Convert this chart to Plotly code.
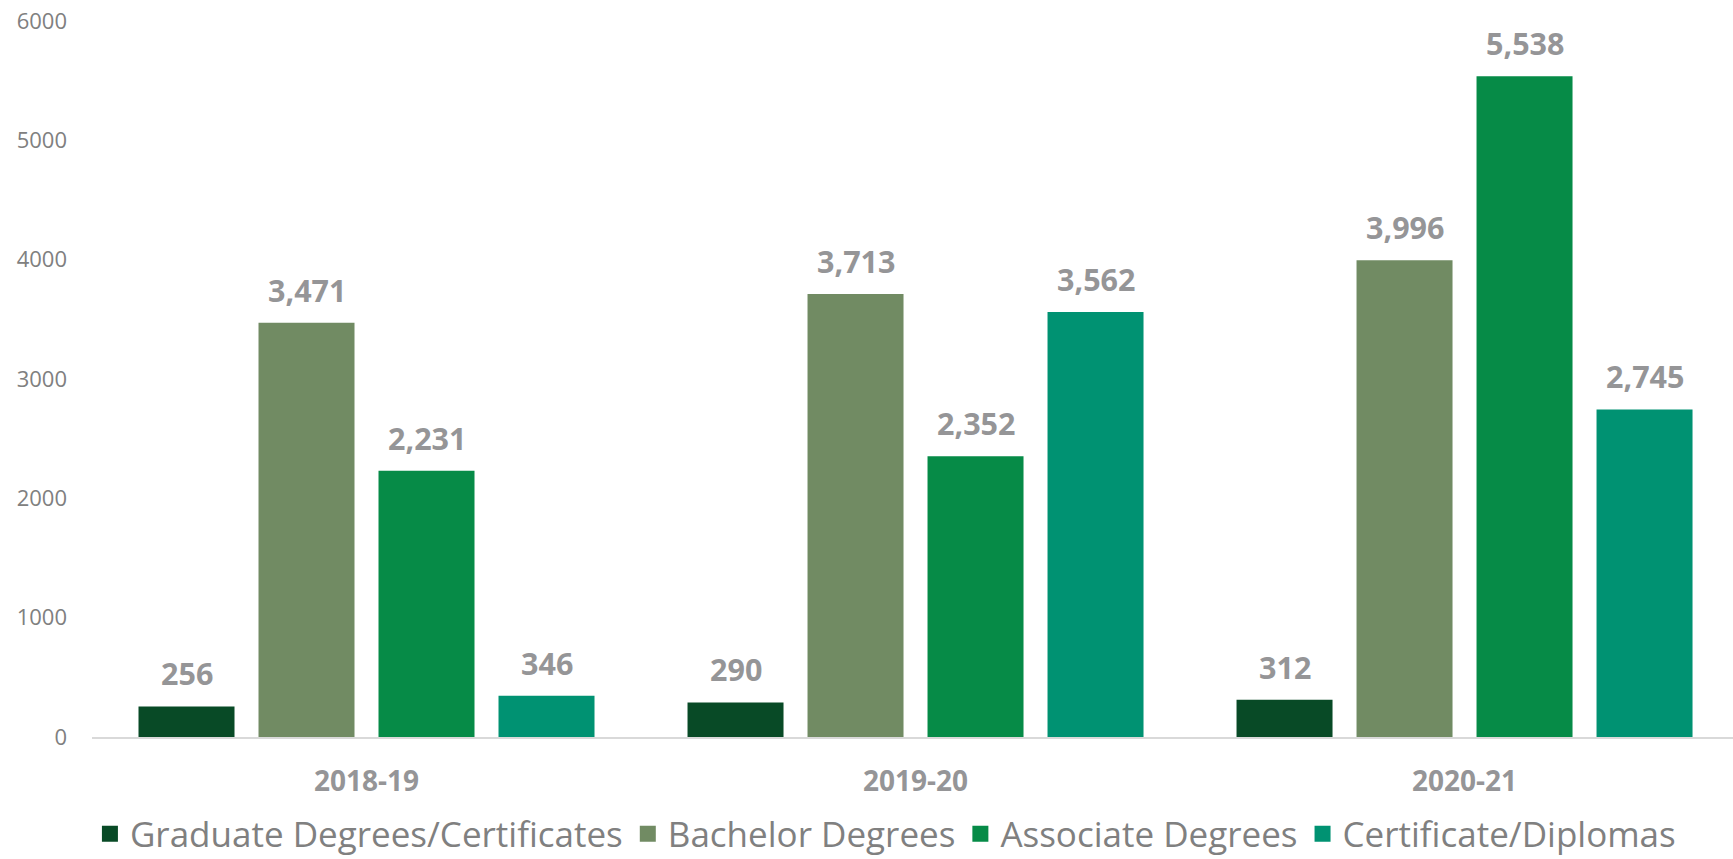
import plotly.graph_objects as go

years = ["2018-19", "2019-20", "2020-21"]
series_names = ["Graduate Degrees/Certificates", "Bachelor Degrees", "Associate Degrees", "Certificate/Diplomas"]
graduate = [256, 290, 312]
bachelor = [3471, 3713, 3996]
associate = [2231, 2352, 5538]
certificate = [346, 3562, 2745]
colors = ["#084A26", "#718B63", "#068B47", "#009272"]
y_ticks = [0, 1000, 2000, 3000, 4000, 5000, 6000]

series_values = [graduate, bachelor, associate, certificate]

W, H = 1733, 859
ML, MR, MT, MB = 92, 0, 21, 122
x_range = [-0.5, 2.489]
bargap = 0.1257
bargroupgap = 0.2

fig = go.Figure()
for name, vals, col in zip(series_names, series_values, colors):
    fig.add_trace(go.Bar(x=years, y=vals, name=name, marker=dict(color=col, line=dict(width=0)),
                         showlegend=False, hoverinfo="x+y"))
# legend entries with larger square symbols
for name, col in zip(series_names, colors):
    fig.add_trace(go.Scatter(x=[None], y=[None], mode="markers", name=name,
                             marker=dict(symbol="square", size=16, color=col)))

# data labels
plot_w = W - ML - MR
plot_h = H - MT - MB
cat_px = plot_w / (x_range[1] - x_range[0])
slot_px = cat_px * (1 - bargap) / len(series_values)
annotations = []
for i, vals in enumerate(series_values):
    off = (i - (len(series_values) - 1) / 2) * slot_px
    for yr, v in zip(years, vals):
        annotations.append(dict(x=yr, y=v, xref="x", yref="y", text=f"<b>{v:,}</b>",
                                showarrow=False, xanchor="center", yanchor="bottom",
                                xshift=off, yshift=10,
                                font=dict(family="Open Sans", size=30.5, color="#959597")))

legend_center_px = 97  # below plot bottom
fig.update_layout(
    width=W, height=H,
    margin=dict(l=ML, r=MR, t=MT, b=MB, pad=0, autoexpand=False),
    paper_bgcolor="white", plot_bgcolor="white",
    barmode="group", bargap=bargap, bargroupgap=bargroupgap,
    font=dict(family="Open Sans", color="#808080"),
    annotations=annotations,
    legend=dict(orientation="h", x=0.4835, xanchor="center",
                y=-legend_center_px / plot_h, yanchor="middle",
                font=dict(family="Open Sans", size=35, color="#808080"),
                itemwidth=30, bgcolor="rgba(0,0,0,0)"),
    xaxis=dict(range=x_range, showgrid=False, zeroline=False, showline=True,
               linecolor="#D9D9D9", linewidth=2, ticks="", automargin=False,
               tickfont=dict(family="Open Sans", size=28, color="#959597", weight="bold"),
               ticklabelstandoff=18),
    yaxis=dict(range=[0, 6000], tickvals=y_ticks, ticktext=[str(t) for t in y_ticks],
               showgrid=False, zeroline=False, showline=False, ticks="", automargin=False,
               ticklabeloverflow="allow",
               tickfont=dict(family="Open Sans", size=22, color="#808080"),
               ticklabelstandoff=24),
)

# remove the browser's default 8px body margin so the figure fills the window exactly
fig.write_html("out.html", config={"displayModeBar": False},
               post_script="document.body.style.margin='0';document.body.style.overflow='hidden';")
